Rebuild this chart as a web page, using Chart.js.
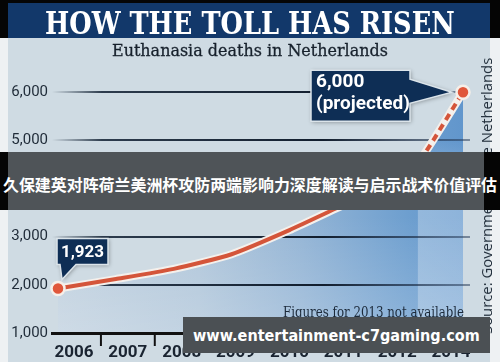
<!DOCTYPE html>
<html>
<head>
<meta charset="utf-8">
<script src="https://cdn.jsdelivr.net/npm/chart.js@4.4.1/dist/chart.umd.min.js"></script>
<style>
html, body { margin: 0; padding: 0; }
body { width: 500px; height: 362px; position: relative; overflow: hidden; background: #eef1f3; }
.abs { position: absolute; }
#panel { left: 8px; top: 0; width: 482px; height: 362px; background: #cfdbe3; }
#chart { left: 0; top: 0; }
.blk { background: #050505; }
#bar { left: 8px; top: 3px; width: 482px; height: 35px; background: #12386a; }
.fit { white-space: nowrap; transform-origin: 0 50%; display: inline-block; }
#title { left: 45px; top: 5px; height: 32px; line-height: 32px; color: #fff; font: bold 31px "DejaVu Serif Condensed", "DejaVu Serif", serif; font-stretch: condensed; }
#sub { left: 112px; top: 40px; line-height: 20px; color: #17212c; font: 17px "DejaVu Serif", serif; -webkit-text-stroke: 0.3px #17212c; }
#note { left: 283px; top: 303px; line-height: 18px; color: #1c2a3a; font: 15px "DejaVu Serif", serif; }
#src { left: 476px; top: 334px; transform-origin: 0 0; transform: rotate(-90deg); line-height: 16px; color: #24313e; font: 15px "Open Sans", sans-serif; }
#banner { left: 0; top: 152px; width: 500px; height: 58px; background: #4f5458; }
#bannerText { left: 3px; top: 172px; line-height: 22px; color: #fff; font: bold 16px "Noto Sans CJK SC", sans-serif; }
#wm { left: 183px; top: 317px; width: 307px; height: 36px; background: #4b5054; }
#wmText { left: 193px; top: 326px; line-height: 20px; color: #fff; font: bold 16px "DejaVu Sans", sans-serif; }
</style>
</head>
<body>
<div class="abs" id="panel"></div>
<canvas id="chart" class="abs" width="500" height="362"></canvas>
<div class="abs blk" style="left:0;top:0;width:500px;height:3px"></div>
<div class="abs blk" style="left:0;top:0;width:8px;height:38px"></div>
<div class="abs blk" style="left:490px;top:0;width:10px;height:38px"></div>
<div class="abs" id="bar"></div>
<div class="abs" id="title"><span class="fit" data-fit="410">HOW THE TOLL HAS RISEN</span></div>
<div class="abs" id="sub"><span class="fit" data-fit="276">Euthanasia deaths in Netherlands</span></div>
<div class="abs" id="note"><span class="fit" data-fit="181">Figures for 2013 not available</span></div>
<div class="abs" id="src"><span class="fit" data-fit="276">Source: Government of the Netherlands</span></div>
<div class="abs" id="banner"></div>
<div class="abs blk" style="left:0;top:152px;width:8px;height:58px"></div>
<div class="abs blk" style="left:484px;top:152px;width:16px;height:58px"></div>
<div class="abs" id="bannerText"><span class="fit" data-fit="494">久保建英对阵荷兰美洲杯攻防两端影响力深度解读与启示战术价值评估</span></div>
<div class="abs" id="wm"></div>
<div class="abs" id="wmText"><span class="fit" data-fit="287">www.entertainment-c7gaming.com</span></div>

<script>
// chart values
const years = ['2006', '2007', '2008', '2009', '2010', '2011', '2012', '2014'];
const deaths = [1923, 2120, 2331, 2636, 3136, 3695, 4188, 6000];
const yTicks = [1000, 2000, 3000, 4000, 5000, 6000];
const firstCallout = ['1,923'];
const lastCallout = ['6,000', '(projected)'];

const last = deaths.length - 1;
const points = deaths.map((v, i) => ({ x: i, y: v }));

// squeeze text spans to the width they take in the picture
document.querySelectorAll('.fit').forEach(el => {
  const s = (+el.dataset.fit) / el.offsetWidth;
  el.style.transform = 'scaleX(' + s + ')';
});

let fillPattern = null;
function getFill(chart) {
  const area = chart.chartArea;
  if (!area || !chart.scales.x) return '#9fbcd8';
  if (fillPattern) return fillPattern;
  const off = document.createElement('canvas');
  off.width = chart.width; off.height = chart.height;
  const o = off.getContext('2d');
  const g = o.createLinearGradient(area.left, 0, area.right, 0);
  g.addColorStop(0, '#c1d1df');
  g.addColorStop(0.35, '#b0c6da');
  g.addColorStop(0.6, '#93b4d5');
  g.addColorStop(0.85, '#6e9fcf');
  g.addColorStop(1, '#6095cc');
  o.fillStyle = g;
  o.fillRect(0, 0, off.width, off.height);
  const v = o.createLinearGradient(0, area.top, 0, area.bottom);
  v.addColorStop(0, 'rgba(255,255,255,0)');
  v.addColorStop(0.55, 'rgba(255,255,255,0)');
  v.addColorStop(1, 'rgba(255,255,255,0.22)');
  o.fillStyle = v;
  o.fillRect(0, 0, off.width, off.height);
  // lighter strip over the projected stretch
  const bx = chart.scales.x.getPixelForValue(last - 0.78);
  const b = o.createLinearGradient(0, chart.scales.y.getPixelForValue(5000), 0, chart.scales.y.getPixelForValue(4000));
  b.addColorStop(0, 'rgba(255,255,255,0)');
  b.addColorStop(1, 'rgba(255,255,255,0.28)');
  o.fillStyle = b;
  o.fillRect(bx, area.top, area.right - bx, area.height);
  fillPattern = chart.ctx.createPattern(off, 'no-repeat');
  return fillPattern;
}

let gridGrad = null;
function gridColor(c) {
  if (c.tick && c.tick.value === yTicks[0]) return 'rgba(0,0,0,0)';
  const area = c.chart.chartArea;
  if (!area) return '#1b2a3c';
  if (!gridGrad) {
    gridGrad = c.chart.ctx.createLinearGradient(area.left, 0, area.right, 0);
    gridGrad.addColorStop(0, 'rgba(27,42,60,0)');
    gridGrad.addColorStop(0.12, 'rgba(27,42,60,0.9)');
    gridGrad.addColorStop(0.65, 'rgba(18,30,46,1)');
    gridGrad.addColorStop(1, 'rgba(35,55,85,0.5)');
  }
  return gridGrad;
}

function callout(ctx, shape, lines, font, align, tx, tys) {
  ctx.save();
  ctx.beginPath();
  shape.forEach((p, i) => i ? ctx.lineTo(p[0], p[1]) : ctx.moveTo(p[0], p[1]));
  ctx.closePath();
  ctx.shadowColor = 'rgba(0,0,0,0.35)';
  ctx.shadowBlur = 4;
  ctx.shadowOffsetX = 1;
  ctx.shadowOffsetY = 1;
  ctx.fillStyle = '#0e2e55';
  ctx.fill();
  ctx.shadowColor = 'rgba(0,0,0,0)';
  ctx.strokeStyle = '#dbe4ea';
  ctx.lineWidth = 1.5;
  ctx.stroke();
  ctx.fillStyle = '#ffffff';
  ctx.font = font;
  ctx.textAlign = align;
  ctx.textBaseline = 'middle';
  lines.forEach((t, i) => ctx.fillText(t, tx, tys[i]));
  ctx.restore();
}

const extras = {
  id: 'extras',
  afterDatasetsDraw(chart) {
    const ctx = chart.ctx;
    const xs = chart.scales.x, ys = chart.scales.y;
    // first point callout
    const ax = xs.getPixelForValue(0), ay = ys.getPixelForValue(deaths[0]);
    const b1 = { x: ax - 1, y: ay - 50, w: 51, h: 26 };
    callout(ctx, [
      [b1.x, b1.y], [b1.x + b1.w, b1.y], [b1.x + b1.w, b1.y + b1.h],
      [b1.x + 19, b1.y + b1.h], [ax + 4, ay - 9], [b1.x + 3, b1.y + b1.h], [b1.x, b1.y + b1.h]
    ], firstCallout, 'bold 17px Roboto, sans-serif', 'center', b1.x + b1.w / 2, [b1.y + b1.h / 2 + 1]);
    // last point callout
    const px = xs.getPixelForValue(last), py = ys.getPixelForValue(deaths[last]);
    const b2 = { x: px - 152, y: py - 22, w: 99, h: 51 };
    callout(ctx, [
      [b2.x, b2.y], [b2.x + b2.w, b2.y], [b2.x + b2.w, b2.y + 9], [px - 11, py],
      [b2.x + b2.w, b2.y + 33], [b2.x + b2.w, b2.y + b2.h], [b2.x, b2.y + b2.h]
    ], lastCallout, 'bold 19px Roboto, sans-serif', 'left', b2.x + 5, [b2.y + 12, b2.y + 34]);
  },
  afterDraw(chart) {
    // tick marks between the year labels
    const ctx = chart.ctx, xl = chart.scales.xl, bottom = chart.chartArea.bottom;
    ctx.save();
    ctx.strokeStyle = '#111';
    ctx.lineWidth = 2;
    for (let i = 0; i < years.length - 1; i++) {
      const x = xl.getPixelForValue(i + 0.5);
      ctx.beginPath();
      ctx.moveTo(x, bottom);
      ctx.lineTo(x, bottom + 13);
      ctx.stroke();
    }
    ctx.restore();
  }
};

new Chart(document.getElementById('chart'), {
  type: 'line',
  data: {
    datasets: [
      {
        data: points,
        borderColor: '#f4f0ec',
        borderWidth: 8,
        tension: 0.2,
        pointRadius: 0,
        fill: 'start',
        backgroundColor: c => getFill(c.chart),
        order: 2,
        clip: false
      },
      {
        data: points,
        borderColor: '#d4553a',
        borderWidth: 4,
        tension: 0.2,
        segment: { borderDash: c => c.p1DataIndex === last ? [7, 5] : undefined },
        pointRadius: c => (c.dataIndex === 0 || c.dataIndex === last) ? 6.5 : 0,
        pointBackgroundColor: '#e0573b',
        pointBorderColor: '#f6efe9',
        pointBorderWidth: 2.5,
        fill: false,
        order: 1,
        clip: false
      }
    ]
  },
  options: {
    responsive: false,
    animation: false,
    events: [],
    layout: { padding: { top: 73, right: 30, left: 0, bottom: 0 } },
    plugins: {
      legend: { display: false },
      tooltip: { enabled: false },
      filler: { drawTime: 'beforeDraw' }
    },
    scales: {
      x: { type: 'linear', min: -0.104, max: 7.121, display: false },
      xl: {
        type: 'linear',
        position: 'bottom',
        min: -0.4085,
        max: 7.353,
        afterBuildTicks: s => { s.ticks = years.map((y, i) => ({ value: i })); },
        afterFit: s => { s.height = 29; },
        grid: { display: false, drawTicks: false },
        border: { display: true, color: '#111', width: 3 },
        ticks: {
          autoSkip: false,
          maxRotation: 0,
          padding: 10,
          color: '#1a2431',
          font: { family: 'Roboto', size: 17, weight: 'bold' },
          callback: v => years[Math.round(v)]
        }
      },
      y: {
        min: 1000,
        max: 6400,
        afterBuildTicks: s => { s.ticks = yTicks.map(v => ({ value: v })); },
        afterFit: s => { s.width = 52; },
        border: { display: false },
        grid: { color: gridColor, lineWidth: 2, drawTicks: false },
        ticks: {
          padding: 4,
          color: '#1f2b38',
          font: { family: 'Roboto', size: 15 },
          callback: v => v.toLocaleString('en-US')
        }
      }
    }
  },
  plugins: [extras]
});
</script>
</body>
</html>
